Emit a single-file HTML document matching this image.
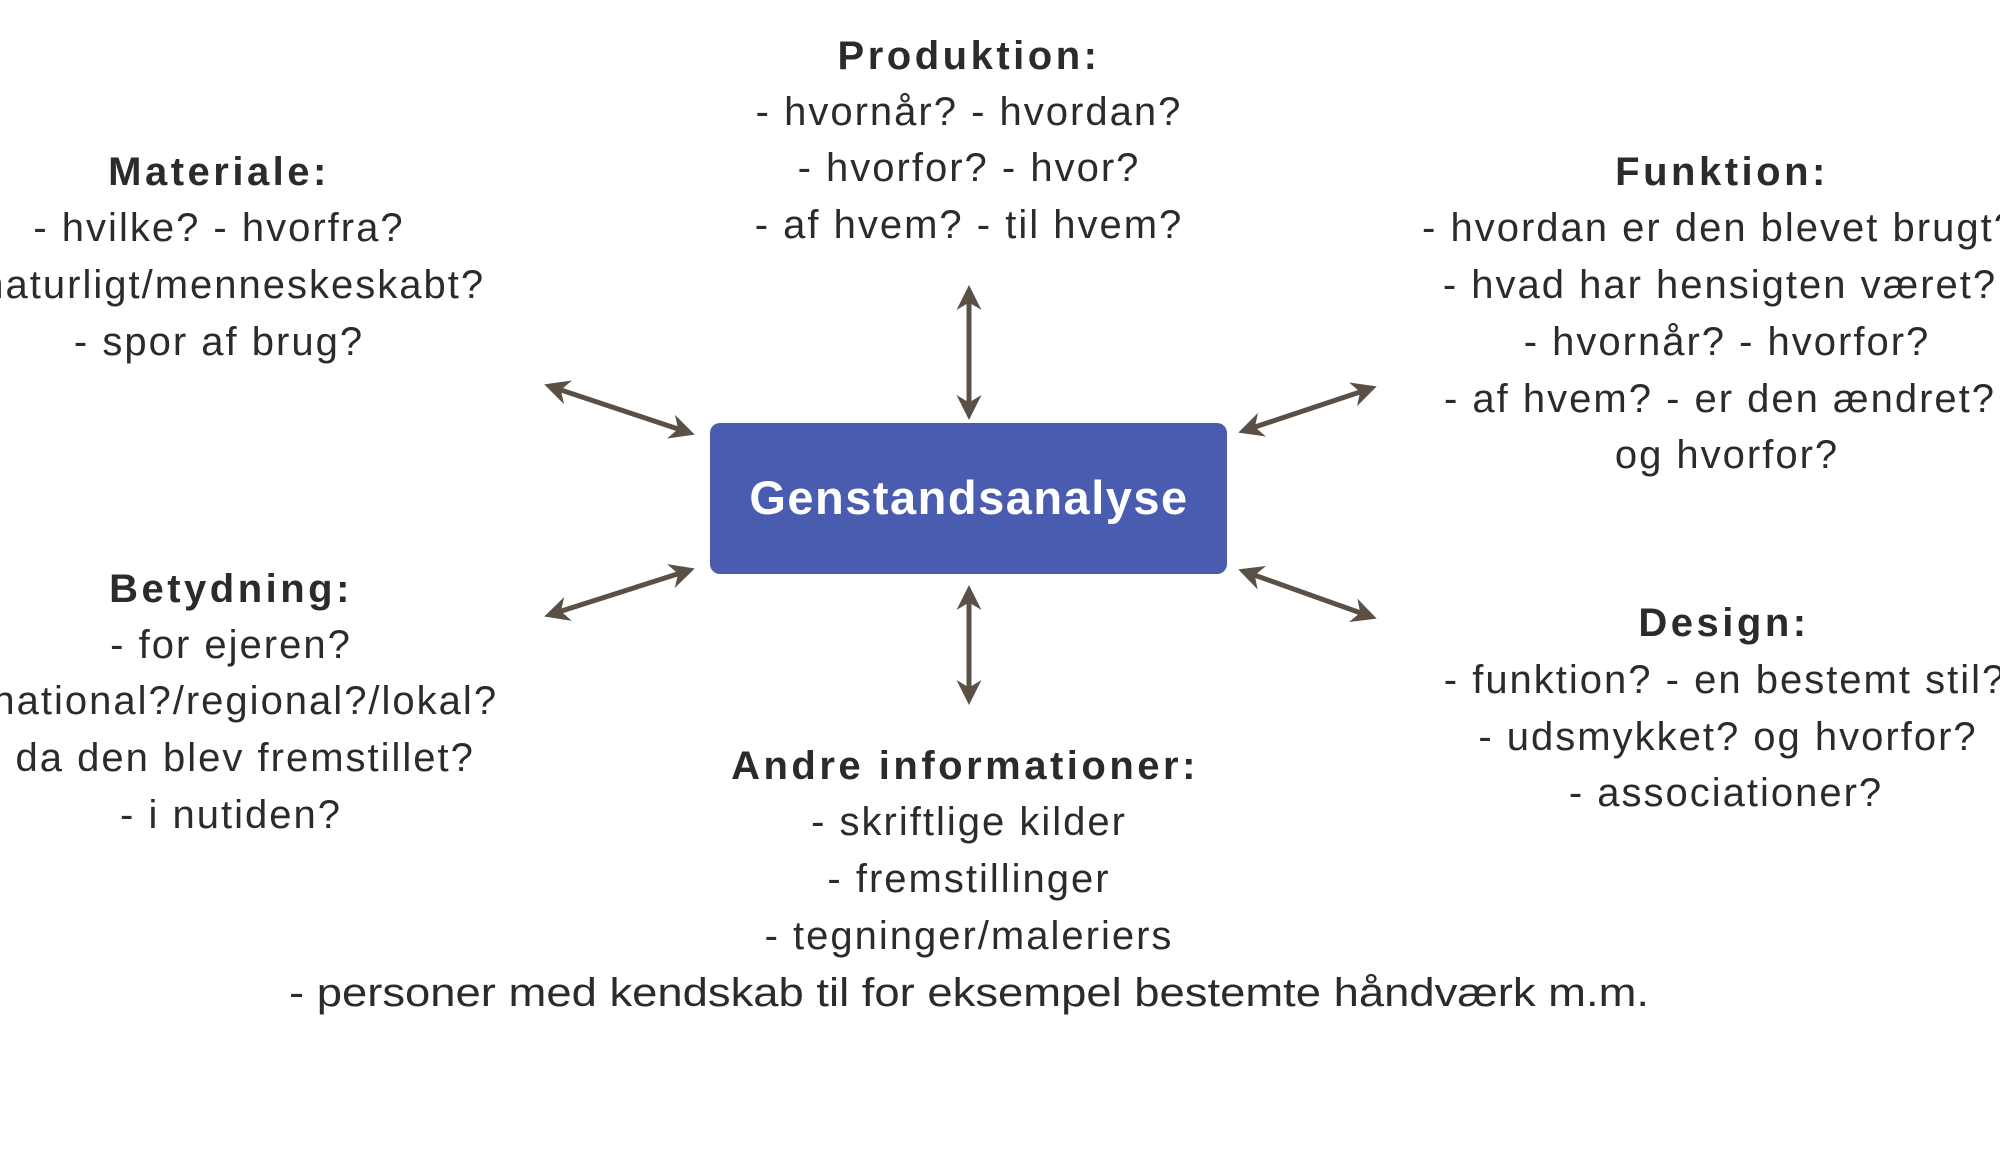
<!DOCTYPE html>
<html><head><meta charset="utf-8"><style>
html,body{margin:0;padding:0;background:#fff;}
svg{display:block;}
text{font-family:"Liberation Sans",sans-serif;fill:#2b2b2b;font-size:40px;letter-spacing:2px;}
.h{font-weight:bold;letter-spacing:3.5px;}
</style></head><body>
<svg width="2000" height="1165" viewBox="0 0 2000 1165" xmlns="http://www.w3.org/2000/svg">
<defs>
<marker id="a" viewBox="0 0 10 10" refX="8" refY="5" markerWidth="5" markerHeight="5" orient="auto-start-reverse">
<path d="M0,0 L10,5 L0,10 L3,5 z" fill="#5a5045"/>
</marker>
</defs>
<rect x="710" y="423" width="517" height="151" rx="10" fill="#4a5cb0"/>
<text x="969" y="514" text-anchor="middle" class="h" style="fill:#fff;font-size:47px;letter-spacing:1.5px">Genstandsanalyse</text>
<g stroke="#5a5045" stroke-width="5" marker-start="url(#a)" marker-end="url(#a)">
<line x1="969" y1="290" x2="969" y2="415"/>
<line x1="969" y1="590" x2="969" y2="700"/>
<line x1="549" y1="386" x2="690" y2="433"/>
<line x1="549" y1="615" x2="690" y2="570"/>
<line x1="1243" y1="431" x2="1372" y2="388"/>
<line x1="1243" y1="571" x2="1372" y2="617"/>
</g>
<g text-anchor="middle">
<text x="969" y="69" class="h">Produktion:</text>
<text x="969" y="125">- hvornår? - hvordan?</text>
<text x="969" y="181">- hvorfor? - hvor?</text>
<text x="969" y="238">- af hvem? - til hvem?</text>

<text x="219" y="185" class="h">Materiale:</text>
<text x="219" y="241">- hvilke? - hvorfra?</text>
<text x="219" y="298">- naturligt/menneskeskabt?</text>
<text x="219" y="355">- spor af brug?</text>

<text x="1722" y="185" class="h">Funktion:</text>
<text x="1720" y="241">- hvordan er den blevet brugt?</text>
<text x="1720" y="298">- hvad har hensigten været?</text>
<text x="1727" y="355">- hvornår? - hvorfor?</text>
<text x="1720" y="412">- af hvem? - er den ændret?</text>
<text x="1727" y="468">og hvorfor?</text>

<text x="231" y="602" class="h">Betydning:</text>
<text x="231" y="658">- for ejeren?</text>
<text x="231" y="714">- national?/regional?/lokal?</text>
<text x="231" y="771">- da den blev fremstillet?</text>
<text x="231" y="828">- i nutiden?</text>

<text x="1724" y="636" class="h">Design:</text>
<text x="1725" y="693">- funktion? - en bestemt stil?</text>
<text x="1728" y="750">- udsmykket? og hvorfor?</text>
<text x="1726" y="806">- associationer?</text>

<text x="965" y="779" class="h">Andre informationer:</text>
<text x="969" y="835">- skriftlige kilder</text>
<text x="969" y="892">- fremstillinger</text>
<text x="969" y="949">- tegninger/maleriers</text>
<text x="969" y="1006" textLength="1360" lengthAdjust="spacingAndGlyphs" style="letter-spacing:0">- personer med kendskab til for eksempel bestemte håndværk m.m.</text>
</g>
</svg>
</body></html>
